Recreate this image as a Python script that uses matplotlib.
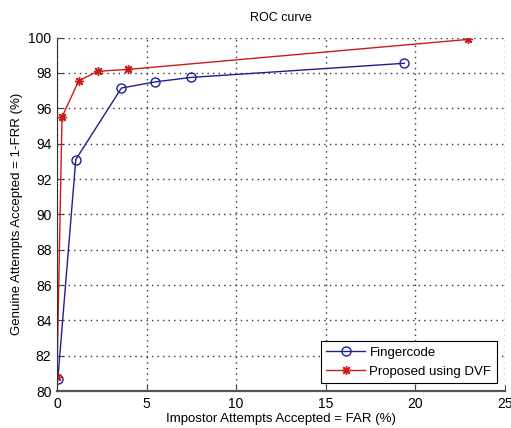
import matplotlib.pyplot as plt

plt.rcParams['font.family'] = ['Liberation Sans', 'DejaVu Sans']

far_finger = [0.05, 1.05, 3.6, 5.5, 7.5, 19.4]
gar_finger = [80.7, 93.1, 97.15, 97.5, 97.75, 98.55]

far_dvf = [0.0, 0.28, 1.22, 2.3, 3.95, 22.95]
gar_dvf = [80.8, 95.5, 97.57, 98.1, 98.2, 99.9]

xticks = [0, 5, 10, 15, 20, 25]
yticks = list(range(80, 101, 2))

fig = plt.figure(figsize=(5.11, 4.28), dpi=100)
ax = fig.add_axes([0.1115, 0.0864, 0.876, 0.8256])

ax.plot(far_finger, gar_finger, '-o', color='#1f1f8f', markerfacecolor='none',
        markeredgecolor='#1f1f8f', markersize=6.5, linewidth=1, label='Fingercode')
ax.plot(far_dvf, gar_dvf, '-', color='#cc1a1a', marker=(8, 2, 0), markersize=6.5,
        markeredgewidth=1.0, linewidth=1, label='Proposed using DVF')

ax.set_xlim(0, 25)
ax.set_ylim(80, 100)
ax.set_xticks(xticks)
ax.set_yticks(yticks)
ax.tick_params(labelsize=10, direction='in', length=4, color='#444444', pad=4)
ax.grid(True, linestyle=(0, (1, 3)), color='#333333', linewidth=1)

ax.spines['top'].set_visible(False)
ax.spines['right'].set_visible(False)
ax.spines['left'].set_color('#333333')
ax.spines['bottom'].set_color('#555555')
ax.spines['bottom'].set_linewidth(1.6)

ax.set_title('ROC curve', fontsize=9, pad=12)
ax.set_xlabel('Impostor Attempts Accepted = FAR (%)', fontsize=9.5, labelpad=2)
ax.set_ylabel('Genuine Attempts Accepted = 1-FRR (%)', fontsize=9.5, labelpad=4)

leg = ax.legend(loc='lower right', fontsize=9.5, fancybox=False, framealpha=1,
                edgecolor='black', borderaxespad=0.6, handlelength=3,
                handletextpad=0.3)
leg.get_frame().set_linewidth(0.8)

fig.savefig('out.png', dpi=100)
